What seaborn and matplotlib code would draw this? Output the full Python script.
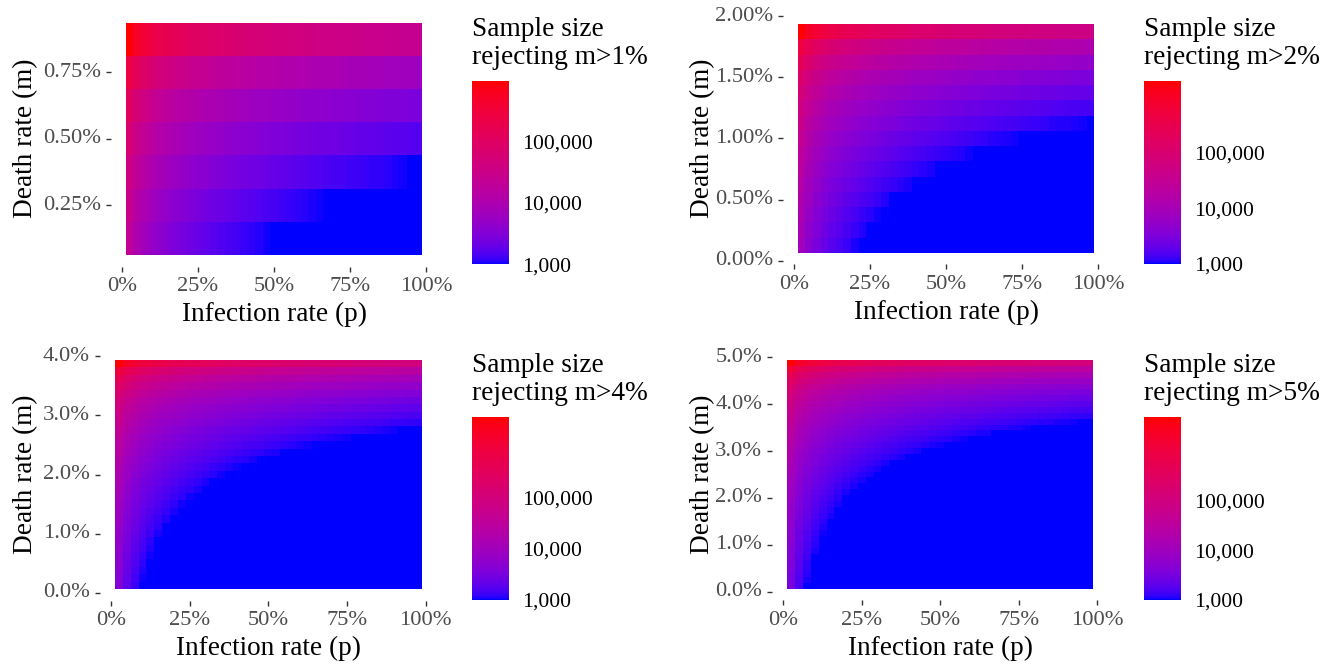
import numpy as np
import pandas as pd
import matplotlib
matplotlib.use("Agg")
import matplotlib.pyplot as plt
import seaborn as sns
from matplotlib.colors import LogNorm, ListedColormap

# ---------------- data ----------------
# infection rate p (%) : column centres
p_vals = [2.5, 5, 7.5, 10, 12.5, 15, 17.5, 20, 22.5, 25, 27.5, 30, 32.5, 35,
          37.5, 40, 42.5, 45, 47.5, 50, 52.5, 55, 57.5, 60, 62.5, 65, 67.5,
          70, 72.5, 75, 77.5, 80, 82.5, 85, 87.5, 90, 92.5, 95, 97.5]

# death rate m (%) : row centres, one list per panel
m_vals_1 = [0.125, 0.25, 0.375, 0.5, 0.625, 0.75, 0.875]
m_vals_2 = [0.125, 0.25, 0.375, 0.5, 0.625, 0.75, 0.875, 1.0, 1.125, 1.25,
            1.375, 1.5, 1.625, 1.75, 1.875]
m_vals_4 = [0.125, 0.25, 0.375, 0.5, 0.625, 0.75, 0.875, 1.0, 1.125, 1.25,
            1.375, 1.5, 1.625, 1.75, 1.875, 2.0, 2.125, 2.25, 2.375, 2.5,
            2.625, 2.75, 2.875, 3.0, 3.125, 3.25, 3.375, 3.5, 3.625, 3.75, 3.875]
m_vals_5 = [0.125, 0.25, 0.375, 0.5, 0.625, 0.75, 0.875, 1.0, 1.125, 1.25,
            1.375, 1.5, 1.625, 1.75, 1.875, 2.0, 2.125, 2.25, 2.375, 2.5,
            2.625, 2.75, 2.875, 3.0, 3.125, 3.25, 3.375, 3.5, 3.625, 3.75,
            3.875, 4.0, 4.125, 4.25, 4.375, 4.5, 4.625, 4.75, 4.875]

# log10(sample size); 3 = 1,000 or less (drawn pure blue). Rows: ascending m
log_n_1 = [
    [4.30, 4.00, 3.82, 3.70, 3.60, 3.52, 3.45, 3.40, 3.34, 3.30, 3.26, 3.22, 3.18, 3.15, 3.12, 3.09, 3.07, 3.04, 3.02,
     3, 3, 3, 3, 3, 3, 3, 3, 3, 3,
     3, 3, 3, 3, 3, 3, 3, 3, 3, 3],
    [4.43, 4.13, 3.96, 3.83, 3.73, 3.65, 3.59, 3.53, 3.48, 3.43, 3.39, 3.35, 3.32, 3.29, 3.26, 3.23, 3.20, 3.18, 3.15, 3.13,
     3.11, 3.09, 3.07, 3.05, 3.03, 3.02,
     3, 3, 3, 3, 3, 3, 3, 3, 3, 3,
     3, 3, 3],
    [4.59, 4.29, 4.11, 3.99, 3.89, 3.81, 3.75, 3.69, 3.64, 3.59, 3.55, 3.51, 3.48, 3.44, 3.41, 3.39, 3.36, 3.34, 3.31, 3.29,
     3.27, 3.25, 3.23, 3.21, 3.19, 3.18, 3.16, 3.14, 3.13, 3.11, 3.10, 3.09, 3.07, 3.06, 3.05, 3.03, 3.02, 3.01, 3],
    [4.78, 4.48, 4.31, 4.18, 4.09, 4.01, 3.94, 3.88, 3.83, 3.78, 3.74, 3.71, 3.67, 3.64, 3.61, 3.58, 3.55, 3.53, 3.51, 3.48,
     3.46, 3.44, 3.42, 3.40, 3.39, 3.37, 3.35, 3.34, 3.32, 3.31, 3.29, 3.28, 3.27, 3.25, 3.24, 3.23, 3.22, 3.20, 3.19],
    [5.03, 4.73, 4.56, 4.43, 4.34, 4.26, 4.19, 4.13, 4.08, 4.03, 3.99, 3.96, 3.92, 3.89, 3.86, 3.83, 3.80, 3.78, 3.76, 3.73,
     3.71, 3.69, 3.67, 3.65, 3.64, 3.62, 3.60, 3.59, 3.57, 3.56, 3.54, 3.53, 3.52, 3.50, 3.49, 3.48, 3.47, 3.45, 3.44],
    [5.39, 5.09, 4.91, 4.78, 4.69, 4.61, 4.54, 4.48, 4.43, 4.39, 4.35, 4.31, 4.27, 4.24, 4.21, 4.18, 4.16, 4.13, 4.11, 4.09,
     4.06, 4.04, 4.02, 4.01, 3.99, 3.97, 3.96, 3.94, 3.92, 3.91, 3.90, 3.88, 3.87, 3.86, 3.84, 3.83, 3.82, 3.81, 3.80],
    [5.99, 5.69, 5.51, 5.39, 5.29, 5.21, 5.14, 5.09, 5.03, 4.99, 4.95, 4.91, 4.87, 4.84, 4.81, 4.78, 4.76, 4.73, 4.71, 4.69,
     4.67, 4.65, 4.63, 4.61, 4.59, 4.57, 4.56, 4.54, 4.53, 4.51, 4.50, 4.48, 4.47, 4.46, 4.44, 4.43, 4.42, 4.41, 4.40],
]
log_n_2 = [
    [3.93, 3.63, 3.46, 3.33, 3.23, 3.16, 3.09, 3.03,
     3, 3, 3, 3, 3, 3, 3, 3, 3, 3,
     3, 3, 3, 3, 3, 3, 3, 3, 3, 3,
     3, 3, 3, 3, 3, 3, 3, 3, 3, 3,
     3],
    [3.99, 3.69, 3.52, 3.39, 3.29, 3.22, 3.15, 3.09, 3.04,
     3, 3, 3, 3, 3, 3, 3, 3, 3, 3,
     3, 3, 3, 3, 3, 3, 3, 3, 3, 3,
     3, 3, 3, 3, 3, 3, 3, 3, 3, 3],
    [4.06, 3.76, 3.58, 3.46, 3.36, 3.28, 3.21, 3.15, 3.10, 3.06, 3.02,
     3, 3, 3, 3, 3, 3, 3, 3, 3, 3,
     3, 3, 3, 3, 3, 3, 3, 3, 3, 3,
     3, 3, 3, 3, 3, 3, 3, 3],
    [4.13, 3.83, 3.65, 3.53, 3.43, 3.35, 3.28, 3.22, 3.17, 3.13, 3.09, 3.05, 3.01,
     3, 3, 3, 3, 3, 3, 3, 3, 3, 3,
     3, 3, 3, 3, 3, 3, 3, 3, 3, 3,
     3, 3, 3, 3, 3, 3],
    [4.20, 3.90, 3.73, 3.60, 3.50, 3.42, 3.36, 3.30, 3.25, 3.20, 3.16, 3.12, 3.09, 3.06, 3.03,
     3, 3, 3, 3, 3, 3, 3, 3, 3, 3,
     3, 3, 3, 3, 3, 3, 3, 3, 3, 3,
     3, 3, 3, 3],
    [4.29, 3.98, 3.81, 3.68, 3.59, 3.51, 3.44, 3.38, 3.33, 3.29, 3.24, 3.21, 3.17, 3.14, 3.11, 3.08, 3.06, 3.03, 3.01,
     3, 3, 3, 3, 3, 3, 3, 3, 3, 3,
     3, 3, 3, 3, 3, 3, 3, 3, 3, 3],
    [4.38, 4.08, 3.90, 3.78, 3.68, 3.60, 3.53, 3.47, 3.42, 3.38, 3.34, 3.30, 3.26, 3.23, 3.20, 3.17, 3.15, 3.12, 3.10, 3.08,
     3.06, 3.04, 3.02,
     3, 3, 3, 3, 3, 3, 3, 3, 3, 3,
     3, 3, 3, 3, 3, 3],
    [4.48, 4.18, 4.00, 3.88, 3.78, 3.70, 3.63, 3.58, 3.53, 3.48, 3.44, 3.40, 3.37, 3.33, 3.30, 3.28, 3.25, 3.22, 3.20, 3.18,
     3.16, 3.14, 3.12, 3.10, 3.08, 3.06, 3.05, 3.03, 3.02, 3.00,
     3, 3, 3, 3, 3, 3, 3, 3, 3],
    [4.60, 4.29, 4.12, 3.99, 3.90, 3.82, 3.75, 3.69, 3.64, 3.60, 3.55, 3.52, 3.48, 3.45, 3.42, 3.39, 3.37, 3.34, 3.32, 3.29,
     3.27, 3.25, 3.23, 3.22, 3.20, 3.18, 3.16, 3.15, 3.13, 3.12, 3.10, 3.09, 3.08, 3.06, 3.05, 3.04, 3.03, 3.02, 3.00],
    [4.73, 4.43, 4.25, 4.13, 4.03, 3.95, 3.88, 3.83, 3.78, 3.73, 3.69, 3.65, 3.62, 3.58, 3.55, 3.53, 3.50, 3.47, 3.45, 3.43,
     3.41, 3.39, 3.37, 3.35, 3.33, 3.31, 3.30, 3.28, 3.27, 3.25, 3.24, 3.22, 3.21, 3.20, 3.19, 3.17, 3.16, 3.15, 3.14],
    [4.89, 4.59, 4.41, 4.29, 4.19, 4.11, 4.04, 3.98, 3.93, 3.89, 3.85, 3.81, 3.77, 3.74, 3.71, 3.68, 3.66, 3.63, 3.61, 3.59,
     3.57, 3.55, 3.53, 3.51, 3.49, 3.47, 3.46, 3.44, 3.43, 3.41, 3.40, 3.38, 3.37, 3.36, 3.34, 3.33, 3.32, 3.31, 3.30],
    [5.08, 4.78, 4.60, 4.48, 4.38, 4.30, 4.24, 4.18, 4.13, 4.08, 4.04, 4.00, 3.97, 3.94, 3.91, 3.88, 3.85, 3.83, 3.80, 3.78,
     3.76, 3.74, 3.72, 3.70, 3.68, 3.67, 3.65, 3.63, 3.62, 3.60, 3.59, 3.58, 3.56, 3.55, 3.54, 3.53, 3.51, 3.50, 3.49],
    [5.33, 5.03, 4.85, 4.73, 4.63, 4.55, 4.49, 4.43, 4.38, 4.33, 4.29, 4.25, 4.22, 4.19, 4.16, 4.13, 4.10, 4.08, 4.05, 4.03,
     4.01, 3.99, 3.97, 3.95, 3.93, 3.92, 3.90, 3.88, 3.87, 3.85, 3.84, 3.83, 3.81, 3.80, 3.79, 3.78, 3.76, 3.75, 3.74],
    [5.68, 5.38, 5.21, 5.08, 4.98, 4.91, 4.84, 4.78, 4.73, 4.68, 4.64, 4.60, 4.57, 4.54, 4.51, 4.48, 4.45, 4.43, 4.40, 4.38,
     4.36, 4.34, 4.32, 4.30, 4.29, 4.27, 4.25, 4.24, 4.22, 4.21, 4.19, 4.18, 4.17, 4.15, 4.14, 4.13, 4.12, 4.10, 4.09],
    [6.29, 5.98, 5.81, 5.68, 5.59, 5.51, 5.44, 5.38, 5.33, 5.29, 5.24, 5.21, 5.17, 5.14, 5.11, 5.08, 5.06, 5.03, 5.01, 4.98,
     4.96, 4.94, 4.92, 4.91, 4.89, 4.87, 4.85, 4.84, 4.82, 4.81, 4.79, 4.78, 4.77, 4.75, 4.74, 4.73, 4.72, 4.71, 4.69],
]
log_n_4 = [
    [3.59, 3.29, 3.12,
     3, 3, 3, 3, 3, 3, 3, 3, 3, 3,
     3, 3, 3, 3, 3, 3, 3, 3, 3, 3,
     3, 3, 3, 3, 3, 3, 3, 3, 3, 3,
     3, 3, 3, 3, 3, 3],
    [3.62, 3.32, 3.15, 3.02,
     3, 3, 3, 3, 3, 3, 3, 3, 3, 3,
     3, 3, 3, 3, 3, 3, 3, 3, 3, 3,
     3, 3, 3, 3, 3, 3, 3, 3, 3, 3,
     3, 3, 3, 3, 3],
    [3.65, 3.35, 3.18, 3.05,
     3, 3, 3, 3, 3, 3, 3, 3, 3, 3,
     3, 3, 3, 3, 3, 3, 3, 3, 3, 3,
     3, 3, 3, 3, 3, 3, 3, 3, 3, 3,
     3, 3, 3, 3, 3],
    [3.68, 3.38, 3.21, 3.08,
     3, 3, 3, 3, 3, 3, 3, 3, 3, 3,
     3, 3, 3, 3, 3, 3, 3, 3, 3, 3,
     3, 3, 3, 3, 3, 3, 3, 3, 3, 3,
     3, 3, 3, 3, 3],
    [3.71, 3.41, 3.24, 3.11, 3.02,
     3, 3, 3, 3, 3, 3, 3, 3, 3, 3,
     3, 3, 3, 3, 3, 3, 3, 3, 3, 3,
     3, 3, 3, 3, 3, 3, 3, 3, 3, 3,
     3, 3, 3, 3],
    [3.75, 3.45, 3.27, 3.15, 3.05,
     3, 3, 3, 3, 3, 3, 3, 3, 3, 3,
     3, 3, 3, 3, 3, 3, 3, 3, 3, 3,
     3, 3, 3, 3, 3, 3, 3, 3, 3, 3,
     3, 3, 3, 3],
    [3.78, 3.48, 3.30, 3.18, 3.08, 3.00,
     3, 3, 3, 3, 3, 3, 3, 3, 3, 3,
     3, 3, 3, 3, 3, 3, 3, 3, 3, 3,
     3, 3, 3, 3, 3, 3, 3, 3, 3, 3,
     3, 3, 3],
    [3.82, 3.52, 3.34, 3.22, 3.12, 3.04,
     3, 3, 3, 3, 3, 3, 3, 3, 3, 3,
     3, 3, 3, 3, 3, 3, 3, 3, 3, 3,
     3, 3, 3, 3, 3, 3, 3, 3, 3, 3,
     3, 3, 3],
    [3.85, 3.55, 3.38, 3.25, 3.16, 3.08, 3.01,
     3, 3, 3, 3, 3, 3, 3, 3, 3, 3,
     3, 3, 3, 3, 3, 3, 3, 3, 3, 3,
     3, 3, 3, 3, 3, 3, 3, 3, 3, 3,
     3, 3],
    [3.89, 3.59, 3.42, 3.29, 3.19, 3.11, 3.05,
     3, 3, 3, 3, 3, 3, 3, 3, 3, 3,
     3, 3, 3, 3, 3, 3, 3, 3, 3, 3,
     3, 3, 3, 3, 3, 3, 3, 3, 3, 3,
     3, 3],
    [3.93, 3.63, 3.46, 3.33, 3.23, 3.16, 3.09, 3.03,
     3, 3, 3, 3, 3, 3, 3, 3, 3, 3,
     3, 3, 3, 3, 3, 3, 3, 3, 3, 3,
     3, 3, 3, 3, 3, 3, 3, 3, 3, 3,
     3],
    [3.98, 3.67, 3.50, 3.37, 3.28, 3.20, 3.13, 3.07, 3.02,
     3, 3, 3, 3, 3, 3, 3, 3, 3, 3,
     3, 3, 3, 3, 3, 3, 3, 3, 3, 3,
     3, 3, 3, 3, 3, 3, 3, 3, 3, 3],
    [4.02, 3.72, 3.54, 3.42, 3.32, 3.24, 3.17, 3.12, 3.07, 3.02,
     3, 3, 3, 3, 3, 3, 3, 3, 3, 3,
     3, 3, 3, 3, 3, 3, 3, 3, 3, 3,
     3, 3, 3, 3, 3, 3, 3, 3, 3],
    [4.07, 3.77, 3.59, 3.46, 3.37, 3.29, 3.22, 3.16, 3.11, 3.07, 3.03,
     3, 3, 3, 3, 3, 3, 3, 3, 3, 3,
     3, 3, 3, 3, 3, 3, 3, 3, 3, 3,
     3, 3, 3, 3, 3, 3, 3, 3],
    [4.12, 3.82, 3.64, 3.51, 3.42, 3.34, 3.27, 3.21, 3.16, 3.12, 3.08, 3.04, 3.00,
     3, 3, 3, 3, 3, 3, 3, 3, 3, 3,
     3, 3, 3, 3, 3, 3, 3, 3, 3, 3,
     3, 3, 3, 3, 3, 3],
    [4.17, 3.87, 3.69, 3.57, 3.47, 3.39, 3.32, 3.27, 3.22, 3.17, 3.13, 3.09, 3.06, 3.02,
     3, 3, 3, 3, 3, 3, 3, 3, 3, 3,
     3, 3, 3, 3, 3, 3, 3, 3, 3, 3,
     3, 3, 3, 3, 3],
    [4.23, 3.92, 3.75, 3.62, 3.53, 3.45, 3.38, 3.32, 3.27, 3.23, 3.18, 3.15, 3.11, 3.08, 3.05, 3.02,
     3, 3, 3, 3, 3, 3, 3, 3, 3, 3,
     3, 3, 3, 3, 3, 3, 3, 3, 3, 3,
     3, 3, 3],
    [4.29, 3.98, 3.81, 3.68, 3.59, 3.51, 3.44, 3.38, 3.33, 3.29, 3.24, 3.21, 3.17, 3.14, 3.11, 3.08, 3.06, 3.03, 3.01,
     3, 3, 3, 3, 3, 3, 3, 3, 3, 3,
     3, 3, 3, 3, 3, 3, 3, 3, 3, 3],
    [4.35, 4.05, 3.87, 3.75, 3.65, 3.57, 3.50, 3.45, 3.40, 3.35, 3.31, 3.27, 3.24, 3.20, 3.17, 3.15, 3.12, 3.09, 3.07, 3.05,
     3.03, 3.01,
     3, 3, 3, 3, 3, 3, 3, 3, 3, 3,
     3, 3, 3, 3, 3, 3, 3],
    [4.42, 4.12, 3.94, 3.82, 3.72, 3.64, 3.57, 3.52, 3.47, 3.42, 3.38, 3.34, 3.31, 3.27, 3.24, 3.22, 3.19, 3.16, 3.14, 3.12,
     3.10, 3.08, 3.06, 3.04, 3.02, 3.00,
     3, 3, 3, 3, 3, 3, 3, 3, 3, 3,
     3, 3, 3],
    [4.49, 4.19, 4.02, 3.89, 3.80, 3.72, 3.65, 3.59, 3.54, 3.49, 3.45, 3.42, 3.38, 3.35, 3.32, 3.29, 3.26, 3.24, 3.22, 3.19,
     3.17, 3.15, 3.13, 3.11, 3.10, 3.08, 3.06, 3.05, 3.03, 3.02, 3.00,
     3, 3, 3, 3, 3, 3, 3, 3],
    [4.58, 4.28, 4.10, 3.98, 3.88, 3.80, 3.73, 3.67, 3.62, 3.58, 3.54, 3.50, 3.46, 3.43, 3.40, 3.37, 3.35, 3.32, 3.30, 3.28,
     3.26, 3.24, 3.22, 3.20, 3.18, 3.16, 3.15, 3.13, 3.12, 3.10, 3.09, 3.07, 3.06, 3.05, 3.03, 3.02, 3.01,
     3, 3],
    [4.67, 4.37, 4.19, 4.07, 3.97, 3.89, 3.82, 3.77, 3.72, 3.67, 3.63, 3.59, 3.56, 3.52, 3.49, 3.47, 3.44, 3.41, 3.39, 3.37,
     3.35, 3.33, 3.31, 3.29, 3.27, 3.25, 3.24, 3.22, 3.21, 3.19, 3.18, 3.16, 3.15, 3.14, 3.13, 3.11, 3.10, 3.09, 3.08],
    [4.77, 4.47, 4.29, 4.17, 4.07, 3.99, 3.93, 3.87, 3.82, 3.77, 3.73, 3.69, 3.66, 3.63, 3.60, 3.57, 3.54, 3.52, 3.49, 3.47,
     3.45, 3.43, 3.41, 3.39, 3.37, 3.36, 3.34, 3.32, 3.31, 3.29, 3.28, 3.27, 3.25, 3.24, 3.23, 3.22, 3.20, 3.19, 3.18],
    [4.89, 4.59, 4.41, 4.29, 4.19, 4.11, 4.04, 3.98, 3.93, 3.89, 3.85, 3.81, 3.77, 3.74, 3.71, 3.68, 3.66, 3.63, 3.61, 3.59,
     3.57, 3.55, 3.53, 3.51, 3.49, 3.47, 3.46, 3.44, 3.43, 3.41, 3.40, 3.38, 3.37, 3.36, 3.34, 3.33, 3.32, 3.31, 3.30],
    [5.02, 4.72, 4.54, 4.42, 4.32, 4.24, 4.18, 4.12, 4.07, 4.02, 3.98, 3.94, 3.91, 3.88, 3.85, 3.82, 3.79, 3.77, 3.74, 3.72,
     3.70, 3.68, 3.66, 3.64, 3.62, 3.61, 3.59, 3.57, 3.56, 3.54, 3.53, 3.52, 3.50, 3.49, 3.48, 3.47, 3.45, 3.44, 3.43],
    [5.18, 4.88, 4.70, 4.58, 4.48, 4.40, 4.33, 4.28, 4.23, 4.18, 4.14, 4.10, 4.07, 4.03, 4.00, 3.98, 3.95, 3.92, 3.90, 3.88,
     3.86, 3.84, 3.82, 3.80, 3.78, 3.76, 3.75, 3.73, 3.72, 3.70, 3.69, 3.67, 3.66, 3.65, 3.64, 3.62, 3.61, 3.60, 3.59],
    [5.37, 5.07, 4.90, 4.77, 4.67, 4.60, 4.53, 4.47, 4.42, 4.37, 4.33, 4.29, 4.26, 4.23, 4.20, 4.17, 4.14, 4.12, 4.09, 4.07,
     4.05, 4.03, 4.01, 3.99, 3.98, 3.96, 3.94, 3.93, 3.91, 3.90, 3.88, 3.87, 3.86, 3.84, 3.83, 3.82, 3.81, 3.79, 3.78],
    [5.62, 5.32, 5.15, 5.02, 4.92, 4.85, 4.78, 4.72, 4.67, 4.62, 4.58, 4.54, 4.51, 4.48, 4.45, 4.42, 4.39, 4.37, 4.34, 4.32,
     4.30, 4.28, 4.26, 4.24, 4.23, 4.21, 4.19, 4.18, 4.16, 4.15, 4.13, 4.12, 4.11, 4.09, 4.08, 4.07, 4.06, 4.04, 4.03],
    [5.98, 5.67, 5.50, 5.37, 5.28, 5.20, 5.13, 5.07, 5.02, 4.98, 4.93, 4.90, 4.86, 4.83, 4.80, 4.77, 4.75, 4.72, 4.70, 4.67,
     4.65, 4.63, 4.61, 4.60, 4.58, 4.56, 4.54, 4.53, 4.51, 4.50, 4.48, 4.47, 4.46, 4.44, 4.43, 4.42, 4.41, 4.40, 4.38],
    [6.58, 6.28, 6.10, 5.98, 5.88, 5.80, 5.73, 5.67, 5.62, 5.58, 5.54, 5.50, 5.46, 5.43, 5.40, 5.37, 5.35, 5.32, 5.30, 5.28,
     5.26, 5.24, 5.22, 5.20, 5.18, 5.16, 5.15, 5.13, 5.12, 5.10, 5.09, 5.07, 5.06, 5.05, 5.03, 5.02, 5.01, 5.00, 4.99],
]
log_n_5 = [
    [3.49, 3.19, 3.01,
     3, 3, 3, 3, 3, 3, 3, 3, 3, 3,
     3, 3, 3, 3, 3, 3, 3, 3, 3, 3,
     3, 3, 3, 3, 3, 3, 3, 3, 3, 3,
     3, 3, 3, 3, 3, 3],
    [3.51, 3.21, 3.03,
     3, 3, 3, 3, 3, 3, 3, 3, 3, 3,
     3, 3, 3, 3, 3, 3, 3, 3, 3, 3,
     3, 3, 3, 3, 3, 3, 3, 3, 3, 3,
     3, 3, 3, 3, 3, 3],
    [3.53, 3.23, 3.06,
     3, 3, 3, 3, 3, 3, 3, 3, 3, 3,
     3, 3, 3, 3, 3, 3, 3, 3, 3, 3,
     3, 3, 3, 3, 3, 3, 3, 3, 3, 3,
     3, 3, 3, 3, 3, 3],
    [3.56, 3.26, 3.08,
     3, 3, 3, 3, 3, 3, 3, 3, 3, 3,
     3, 3, 3, 3, 3, 3, 3, 3, 3, 3,
     3, 3, 3, 3, 3, 3, 3, 3, 3, 3,
     3, 3, 3, 3, 3, 3],
    [3.58, 3.28, 3.10,
     3, 3, 3, 3, 3, 3, 3, 3, 3, 3,
     3, 3, 3, 3, 3, 3, 3, 3, 3, 3,
     3, 3, 3, 3, 3, 3, 3, 3, 3, 3,
     3, 3, 3, 3, 3, 3],
    [3.61, 3.31, 3.13, 3.00,
     3, 3, 3, 3, 3, 3, 3, 3, 3, 3,
     3, 3, 3, 3, 3, 3, 3, 3, 3, 3,
     3, 3, 3, 3, 3, 3, 3, 3, 3, 3,
     3, 3, 3, 3, 3],
    [3.63, 3.33, 3.16, 3.03,
     3, 3, 3, 3, 3, 3, 3, 3, 3, 3,
     3, 3, 3, 3, 3, 3, 3, 3, 3, 3,
     3, 3, 3, 3, 3, 3, 3, 3, 3, 3,
     3, 3, 3, 3, 3],
    [3.66, 3.36, 3.18, 3.06,
     3, 3, 3, 3, 3, 3, 3, 3, 3, 3,
     3, 3, 3, 3, 3, 3, 3, 3, 3, 3,
     3, 3, 3, 3, 3, 3, 3, 3, 3, 3,
     3, 3, 3, 3, 3],
    [3.69, 3.39, 3.21, 3.08,
     3, 3, 3, 3, 3, 3, 3, 3, 3, 3,
     3, 3, 3, 3, 3, 3, 3, 3, 3, 3,
     3, 3, 3, 3, 3, 3, 3, 3, 3, 3,
     3, 3, 3, 3, 3],
    [3.72, 3.41, 3.24, 3.11, 3.02,
     3, 3, 3, 3, 3, 3, 3, 3, 3, 3,
     3, 3, 3, 3, 3, 3, 3, 3, 3, 3,
     3, 3, 3, 3, 3, 3, 3, 3, 3, 3,
     3, 3, 3, 3],
    [3.74, 3.44, 3.27, 3.14, 3.05,
     3, 3, 3, 3, 3, 3, 3, 3, 3, 3,
     3, 3, 3, 3, 3, 3, 3, 3, 3, 3,
     3, 3, 3, 3, 3, 3, 3, 3, 3, 3,
     3, 3, 3, 3],
    [3.78, 3.47, 3.30, 3.17, 3.08,
     3, 3, 3, 3, 3, 3, 3, 3, 3, 3,
     3, 3, 3, 3, 3, 3, 3, 3, 3, 3,
     3, 3, 3, 3, 3, 3, 3, 3, 3, 3,
     3, 3, 3, 3],
    [3.81, 3.51, 3.33, 3.20, 3.11, 3.03,
     3, 3, 3, 3, 3, 3, 3, 3, 3, 3,
     3, 3, 3, 3, 3, 3, 3, 3, 3, 3,
     3, 3, 3, 3, 3, 3, 3, 3, 3, 3,
     3, 3, 3],
    [3.84, 3.54, 3.36, 3.24, 3.14, 3.06,
     3, 3, 3, 3, 3, 3, 3, 3, 3, 3,
     3, 3, 3, 3, 3, 3, 3, 3, 3, 3,
     3, 3, 3, 3, 3, 3, 3, 3, 3, 3,
     3, 3, 3],
    [3.87, 3.57, 3.40, 3.27, 3.17, 3.10, 3.03,
     3, 3, 3, 3, 3, 3, 3, 3, 3, 3,
     3, 3, 3, 3, 3, 3, 3, 3, 3, 3,
     3, 3, 3, 3, 3, 3, 3, 3, 3, 3,
     3, 3],
    [3.91, 3.61, 3.43, 3.31, 3.21, 3.13, 3.06, 3.01,
     3, 3, 3, 3, 3, 3, 3, 3, 3, 3,
     3, 3, 3, 3, 3, 3, 3, 3, 3, 3,
     3, 3, 3, 3, 3, 3, 3, 3, 3, 3,
     3],
    [3.95, 3.65, 3.47, 3.34, 3.25, 3.17, 3.10, 3.04,
     3, 3, 3, 3, 3, 3, 3, 3, 3, 3,
     3, 3, 3, 3, 3, 3, 3, 3, 3, 3,
     3, 3, 3, 3, 3, 3, 3, 3, 3, 3,
     3],
    [3.98, 3.68, 3.51, 3.38, 3.29, 3.21, 3.14, 3.08, 3.03,
     3, 3, 3, 3, 3, 3, 3, 3, 3, 3,
     3, 3, 3, 3, 3, 3, 3, 3, 3, 3,
     3, 3, 3, 3, 3, 3, 3, 3, 3, 3],
    [4.03, 3.72, 3.55, 3.42, 3.33, 3.25, 3.18, 3.12, 3.07, 3.03,
     3, 3, 3, 3, 3, 3, 3, 3, 3, 3,
     3, 3, 3, 3, 3, 3, 3, 3, 3, 3,
     3, 3, 3, 3, 3, 3, 3, 3, 3],
    [4.07, 3.77, 3.59, 3.47, 3.37, 3.29, 3.22, 3.16, 3.11, 3.07, 3.03,
     3, 3, 3, 3, 3, 3, 3, 3, 3, 3,
     3, 3, 3, 3, 3, 3, 3, 3, 3, 3,
     3, 3, 3, 3, 3, 3, 3, 3],
    [4.11, 3.81, 3.63, 3.51, 3.41, 3.33, 3.27, 3.21, 3.16, 3.11, 3.07, 3.03,
     3, 3, 3, 3, 3, 3, 3, 3, 3, 3,
     3, 3, 3, 3, 3, 3, 3, 3, 3, 3,
     3, 3, 3, 3, 3, 3, 3],
    [4.16, 3.86, 3.68, 3.56, 3.46, 3.38, 3.31, 3.26, 3.20, 3.16, 3.12, 3.08, 3.04, 3.01,
     3, 3, 3, 3, 3, 3, 3, 3, 3, 3,
     3, 3, 3, 3, 3, 3, 3, 3, 3, 3,
     3, 3, 3, 3, 3],
    [4.21, 3.91, 3.73, 3.61, 3.51, 3.43, 3.36, 3.31, 3.25, 3.21, 3.17, 3.13, 3.09, 3.06, 3.03, 3.00,
     3, 3, 3, 3, 3, 3, 3, 3, 3, 3,
     3, 3, 3, 3, 3, 3, 3, 3, 3, 3,
     3, 3, 3],
    [4.26, 3.96, 3.78, 3.66, 3.56, 3.48, 3.42, 3.36, 3.31, 3.26, 3.22, 3.18, 3.15, 3.12, 3.09, 3.06, 3.03, 3.01,
     3, 3, 3, 3, 3, 3, 3, 3, 3, 3,
     3, 3, 3, 3, 3, 3, 3, 3, 3, 3,
     3],
    [4.32, 4.02, 3.84, 3.72, 3.62, 3.54, 3.47, 3.41, 3.36, 3.32, 3.28, 3.24, 3.20, 3.17, 3.14, 3.11, 3.09, 3.06, 3.04, 3.02,
     3, 3, 3, 3, 3, 3, 3, 3, 3, 3,
     3, 3, 3, 3, 3, 3, 3, 3, 3],
    [4.38, 4.08, 3.90, 3.78, 3.68, 3.60, 3.53, 3.47, 3.42, 3.38, 3.34, 3.30, 3.26, 3.23, 3.20, 3.17, 3.15, 3.12, 3.10, 3.08,
     3.06, 3.04, 3.02,
     3, 3, 3, 3, 3, 3, 3, 3, 3, 3,
     3, 3, 3, 3, 3, 3],
    [4.44, 4.14, 3.96, 3.84, 3.74, 3.66, 3.60, 3.54, 3.49, 3.44, 3.40, 3.36, 3.33, 3.30, 3.27, 3.24, 3.21, 3.19, 3.16, 3.14,
     3.12, 3.10, 3.08, 3.06, 3.04, 3.03, 3.01,
     3, 3, 3, 3, 3, 3, 3, 3, 3, 3,
     3, 3],
    [4.51, 4.21, 4.03, 3.91, 3.81, 3.73, 3.67, 3.61, 3.56, 3.51, 3.47, 3.43, 3.40, 3.37, 3.34, 3.31, 3.28, 3.26, 3.23, 3.21,
     3.19, 3.17, 3.15, 3.13, 3.11, 3.10, 3.08, 3.06, 3.05, 3.03, 3.02, 3.01,
     3, 3, 3, 3, 3, 3, 3],
    [4.59, 4.29, 4.11, 3.98, 3.89, 3.81, 3.74, 3.68, 3.63, 3.59, 3.55, 3.51, 3.47, 3.44, 3.41, 3.38, 3.36, 3.33, 3.31, 3.29,
     3.26, 3.24, 3.22, 3.21, 3.19, 3.17, 3.16, 3.14, 3.12, 3.11, 3.10, 3.08, 3.07, 3.06, 3.04, 3.03, 3.02, 3.01, 3],
    [4.67, 4.37, 4.19, 4.07, 3.97, 3.89, 3.82, 3.77, 3.72, 3.67, 3.63, 3.59, 3.56, 3.52, 3.49, 3.47, 3.44, 3.41, 3.39, 3.37,
     3.35, 3.33, 3.31, 3.29, 3.27, 3.25, 3.24, 3.22, 3.21, 3.19, 3.18, 3.16, 3.15, 3.14, 3.13, 3.11, 3.10, 3.09, 3.08],
    [4.76, 4.46, 4.28, 4.16, 4.06, 3.98, 3.92, 3.86, 3.81, 3.76, 3.72, 3.68, 3.65, 3.62, 3.59, 3.56, 3.53, 3.51, 3.48, 3.46,
     3.44, 3.42, 3.40, 3.38, 3.36, 3.35, 3.33, 3.31, 3.30, 3.28, 3.27, 3.26, 3.24, 3.23, 3.22, 3.21, 3.19, 3.18, 3.17],
    [4.86, 4.56, 4.39, 4.26, 4.16, 4.09, 4.02, 3.96, 3.91, 3.86, 3.82, 3.78, 3.75, 3.72, 3.69, 3.66, 3.63, 3.61, 3.58, 3.56,
     3.54, 3.52, 3.50, 3.48, 3.47, 3.45, 3.43, 3.42, 3.40, 3.39, 3.37, 3.36, 3.35, 3.33, 3.32, 3.31, 3.30, 3.28, 3.27],
    [4.98, 4.68, 4.50, 4.38, 4.28, 4.20, 4.13, 4.08, 4.03, 3.98, 3.94, 3.90, 3.87, 3.83, 3.80, 3.78, 3.75, 3.72, 3.70, 3.68,
     3.66, 3.64, 3.62, 3.60, 3.58, 3.56, 3.55, 3.53, 3.52, 3.50, 3.49, 3.47, 3.46, 3.45, 3.44, 3.42, 3.41, 3.40, 3.39],
    [5.11, 4.81, 4.64, 4.51, 4.41, 4.34, 4.27, 4.21, 4.16, 4.11, 4.07, 4.03, 4.00, 3.97, 3.94, 3.91, 3.88, 3.86, 3.83, 3.81,
     3.79, 3.77, 3.75, 3.73, 3.72, 3.70, 3.68, 3.67, 3.65, 3.64, 3.62, 3.61, 3.60, 3.58, 3.57, 3.56, 3.55, 3.53, 3.52],
    [5.27, 4.97, 4.79, 4.67, 4.57, 4.49, 4.43, 4.37, 4.32, 4.27, 4.23, 4.19, 4.16, 4.13, 4.10, 4.07, 4.04, 4.02, 3.99, 3.97,
     3.95, 3.93, 3.91, 3.89, 3.87, 3.86, 3.84, 3.82, 3.81, 3.79, 3.78, 3.77, 3.75, 3.74, 3.73, 3.72, 3.70, 3.69, 3.68],
    [5.47, 5.16, 4.99, 4.86, 4.77, 4.69, 4.62, 4.56, 4.51, 4.47, 4.42, 4.39, 4.35, 4.32, 4.29, 4.26, 4.24, 4.21, 4.19, 4.16,
     4.14, 4.12, 4.10, 4.09, 4.07, 4.05, 4.03, 4.02, 4.00, 3.99, 3.97, 3.96, 3.95, 3.93, 3.92, 3.91, 3.90, 3.89, 3.87],
    [5.72, 5.41, 5.24, 5.11, 5.02, 4.94, 4.87, 4.81, 4.76, 4.72, 4.67, 4.64, 4.60, 4.57, 4.54, 4.51, 4.49, 4.46, 4.44, 4.41,
     4.39, 4.37, 4.35, 4.34, 4.32, 4.30, 4.28, 4.27, 4.25, 4.24, 4.22, 4.21, 4.20, 4.18, 4.17, 4.16, 4.15, 4.14, 4.12],
    [6.07, 5.77, 5.59, 5.47, 5.37, 5.29, 5.22, 5.16, 5.11, 5.07, 5.03, 4.99, 4.95, 4.92, 4.89, 4.86, 4.84, 4.81, 4.79, 4.77,
     4.75, 4.73, 4.71, 4.69, 4.67, 4.65, 4.64, 4.62, 4.61, 4.59, 4.58, 4.56, 4.55, 4.54, 4.52, 4.51, 4.50, 4.49, 4.48],
    [6.67, 6.37, 6.19, 6.07, 5.97, 5.89, 5.82, 5.77, 5.72, 5.67, 5.63, 5.59, 5.56, 5.52, 5.49, 5.47, 5.44, 5.41, 5.39, 5.37,
     5.35, 5.33, 5.31, 5.29, 5.27, 5.25, 5.24, 5.22, 5.21, 5.19, 5.18, 5.16, 5.15, 5.14, 5.13, 5.11, 5.10, 5.09, 5.08],
]

x_ticks = [0, 25, 50, 75, 100]
x_tick_labels = ["0%", "25%", "50%", "75%", "100%"]
y_ticks_1 = [0.25, 0.5, 0.75]
y_tick_labels_1 = ["0.25%", "0.50%", "0.75%"]
y_ticks_2 = [0, 0.5, 1.0, 1.5, 2.0]
y_tick_labels_2 = ["0.00%", "0.50%", "1.00%", "1.50%", "2.00%"]
y_ticks_4 = [0, 1, 2, 3, 4]
y_tick_labels_4 = ["0.0%", "1.0%", "2.0%", "3.0%", "4.0%"]
y_ticks_5 = [0, 1, 2, 3, 4, 5]
y_tick_labels_5 = ["0.0%", "1.0%", "2.0%", "3.0%", "4.0%", "5.0%"]
legend_titles = ["rejecting m>1%", "rejecting m>2%", "rejecting m>4%", "rejecting m>5%"]
cbar_ticks = [1000, 10000, 100000]
cbar_tick_labels = ["1,000", "10,000", "100,000"]

# ---------------- style ----------------
sns.set_theme(style="white")
plt.rcParams["font.family"] = ["Liberation Serif", "DejaVu Serif"]


def _lin(c):
    c = np.asarray(c, float)
    return np.where(c <= 0.04045, c / 12.92, ((c + 0.055) / 1.055) ** 2.4)


def _gam(c):
    c = np.clip(c, 0, 1)
    return np.where(c <= 0.0031308, 12.92 * c, 1.055 * c ** (1 / 2.4) - 0.055)


_M = np.array([[0.4124564, 0.3575761, 0.1804375],
               [0.2126729, 0.7151522, 0.0721750],
               [0.0193339, 0.1191920, 0.9503041]])
_WN = np.array([0.95047, 1.0, 1.08883])
_d = 6 / 29


def rgb2lab(rgb):
    xyz = _M @ _lin(rgb) / _WN
    f = np.where(xyz > _d ** 3, np.cbrt(xyz), xyz / (3 * _d ** 2) + 4 / 29)
    return np.array([116 * f[1] - 16, 500 * (f[0] - f[1]), 200 * (f[1] - f[2])])


def lab2rgb(lab):
    L, a, b = lab
    fy = (L + 16) / 116
    f = np.array([fy + a / 500, fy, fy - b / 200])
    xyz = np.where(f > _d, f ** 3, 3 * _d ** 2 * (f - 4 / 29)) * _WN
    return _gam(np.linalg.solve(_M, xyz))


lab_lo = rgb2lab([0, 0, 1])
lab_hi = rgb2lab([1, 0, 0])
cmap = ListedColormap([lab2rgb(lab_lo + t * (lab_hi - lab_lo)) for t in np.linspace(0, 1, 256)])

W, H = 1338, 665


def box(l, t, r, b):
    return [l / W, 1 - b / H, (r - l) / W, (b - t) / H]


panels = [
    dict(m=m_vals_1, logn=log_n_1, yt=y_ticks_1, ytl=y_tick_labels_1),
    dict(m=m_vals_2, logn=log_n_2, yt=y_ticks_2, ytl=y_tick_labels_2),
    dict(m=m_vals_4, logn=log_n_4, yt=y_ticks_4, ytl=y_tick_labels_4),
    dict(m=m_vals_5, logn=log_n_5, yt=y_ticks_5, ytl=y_tick_labels_5),
]

problems = []
for i, pan in enumerate(panels):
    if len(pan["logn"]) != len(pan["m"]):
        problems.append(f"panel {i}: {len(pan['logn'])} rows for {len(pan['m'])} m values")
    for r, row in enumerate(pan["logn"]):
        if len(row) != len(p_vals):
            problems.append(f"panel {i} row {r}: {len(row)} values")
if problems:
    raise ValueError("; ".join(problems))

axes_boxes = [(111, 11, 437, 266.5), (783, 12.6, 1109, 264.4),
              (99.7, 348.5, 437, 600.5), (772, 348.6, 1108.6, 600.4)]
cbar_boxes = [(472.3, 81, 509.3, 264.3), (1144.3, 81, 1180.7, 264),
              (472.3, 417, 509.3, 600), (1144, 417.3, 1181, 600)]
title_pos = [(472, 36, 64), (1144, 36, 64), (472, 372, 400), (1144, 372, 400)]
ylab_x = [26, 703, 26, 703]
P_LIM = (-3.625, 103.625)

fig = plt.figure(figsize=(W / 100, H / 100), dpi=100, facecolor="white")

dp = p_vals[1] - p_vals[0]
for i, pan in enumerate(panels):
    m = pan["m"]
    n = 10.0 ** np.array(pan["logn"], float)
    df = pd.DataFrame(n[::-1], index=m[::-1], columns=p_vals)

    ax = fig.add_axes(box(*axes_boxes[i]))
    cax = fig.add_axes(box(*cbar_boxes[i]))
    sns.heatmap(df, ax=ax, cbar_ax=cax, cmap=cmap,
                norm=LogNorm(vmin=1000, vmax=n.max()))

    dm = m[1] - m[0]
    m_top = max(m)
    ext = max(m) - min(m) + dm

    def xc(p):
        return (p - p_vals[0]) / dp + 0.5

    def yc(v):
        return (m_top - v) / dm + 0.5

    m_lo = min(m) - dm / 2 - 0.05 * ext
    m_hi = max(m) + dm / 2 + 0.05 * ext
    ax.set_xlim(xc(P_LIM[0]), xc(P_LIM[1]))
    ax.set_ylim(yc(m_lo), yc(m_hi))
    ax.set_xticks([xc(v) for v in x_ticks])
    ax.set_xticklabels(x_tick_labels, rotation=0)
    ax.set_yticks([yc(v) for v in pan["yt"]])
    ax.set_yticklabels(pan["ytl"], rotation=0)
    ax.set_xlabel("")
    ax.set_ylabel("")
    for s in ax.spines.values():
        s.set_visible(False)
    ax.tick_params(axis="both", which="major", bottom=True, left=True,
                   direction="out", length=3.3, width=1.0, color="#333333",
                   labelsize=16.2, labelcolor="#4D4D4D")
    ax.tick_params(axis="x", pad=4.0)
    ax.tick_params(axis="y", pad=3.8)

    cb = ax.collections[0].colorbar
    cb.set_ticks(cbar_ticks)
    cb.set_ticklabels(cbar_tick_labels)
    cb.ax.minorticks_off()
    cb.outline.set_visible(False)
    cb.ax.tick_params(which="major", direction="in", length=5, width=0.8,
                      color="white", left=True, right=True,
                      labelleft=False, labelright=True,
                      labelsize=15.7, labelcolor="black", pad=9.5)

    l, t, r, b = axes_boxes[i]
    fig.text(((l + r) / 2) / W, 1 - (b + 48) / H, "Infection rate (p)",
             ha="center", va="center", fontsize=19.6, color="black")
    fig.text(ylab_x[i] / W, 1 - ((t + b) / 2) / H, "Death rate (m)",
             rotation=90, ha="center", va="center", fontsize=19.6, color="black")
    tx, b1, b2 = title_pos[i]
    fig.text(tx / W, 1 - b1 / H, "Sample size", ha="left", va="baseline",
             fontsize=19.7, color="black")
    fig.text(tx / W, 1 - b2 / H, legend_titles[i], ha="left", va="baseline",
             fontsize=19.7, color="black")

fig.savefig("out.png", dpi=100, facecolor="white")
